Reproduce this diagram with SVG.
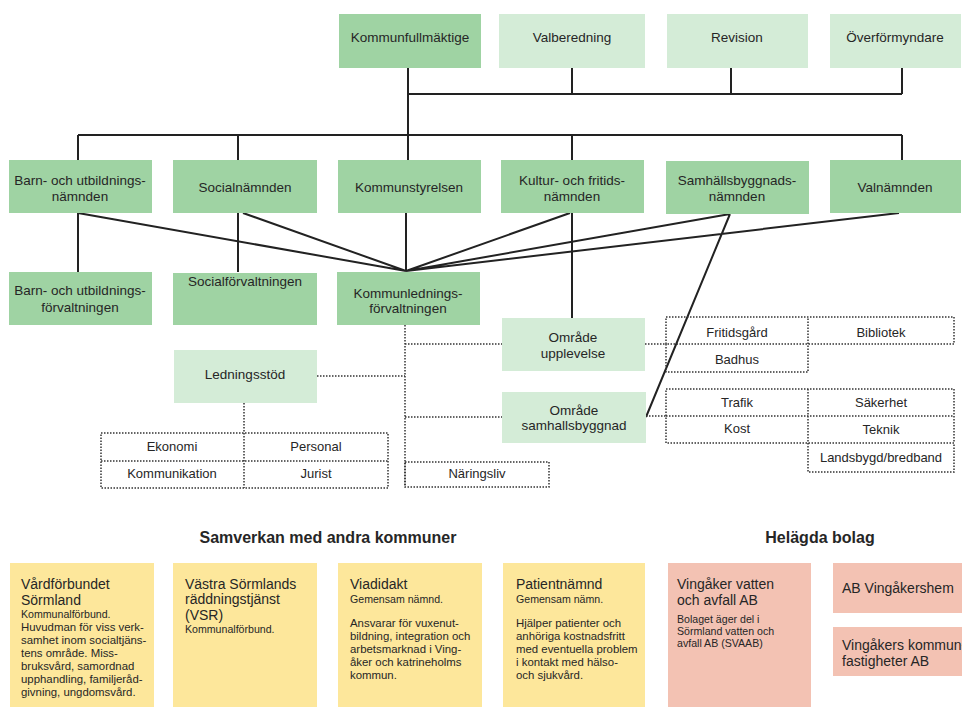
<svg xmlns="http://www.w3.org/2000/svg" width="962" height="710" viewBox="0 0 962 710">
<style>
text{font-family:"Liberation Sans",Arial,sans-serif;fill:#262626}
.n{font-size:13.5px;text-anchor:middle}
.c{font-size:13px;text-anchor:middle}
.dk{fill:#9fd3a3}
.lt{fill:#d4ecd7}
.ye{fill:#fde79b}
.pk{fill:#f3c2b3}
.sol{stroke:#222;stroke-width:2;fill:none}
.dot{stroke:#333;stroke-width:1.5;stroke-dasharray:1.5 1.5;fill:none}
.h{font-size:16px;font-weight:bold;text-anchor:middle}
.t{font-size:14px}
.s{font-size:11.4px}
.sk{font-size:10.6px}
</style>
<rect width="962" height="710" fill="#fff"/>
<g id="connectors">
<path class="sol" d="M408 68V160M408 94H902M572 68V94M731 68V94M902 68V94M78 135H902M78 135V160M238 135V160M572 135V160M902 135V160"/>
<path class="sol" d="M78 213V272M238 213V272M406 213V271M572 213V318"/>
<path class="sol" d="M78 213L406 271M243 213L406 271M570 213L406 271M730 214L406 271M899 213L406 271M730 214L646 417"/>
<path class="dot" d="M405 325V487M405 344H502M405 417H502M317 376H405M244 403V433M645 344H666M646 416H666"/>
</g>
<g id="kommunfullmaktige"><rect class="dk" x="339" y="14" width="142" height="54"/><text class="n" x="410" y="42">Kommunfullmäktige</text></g>
<g id="valberedning"><rect class="lt" x="499" y="14" width="146" height="54"/><text class="n" x="572" y="42">Valberedning</text></g>
<g id="revision"><rect class="lt" x="667" y="14" width="141" height="54"/><text class="n" x="737" y="42">Revision</text></g>
<g id="overformyndare"><rect class="lt" x="830" y="14" width="131" height="54"/><text class="n" x="895" y="42">Överförmyndare</text></g>

<g id="bun"><rect class="dk" x="9" y="160" width="143" height="53"/><text class="n" x="80" y="185">Barn- och utbildnings-</text><text class="n" x="80" y="201">nämnden</text></g>
<g id="socialnamnden"><rect class="dk" x="173" y="160" width="144" height="53"/><text class="n" x="245" y="192">Socialnämnden</text></g>
<g id="kommunstyrelsen"><rect class="dk" x="338" y="160" width="143" height="53"/><text class="n" x="409" y="192">Kommunstyrelsen</text></g>
<g id="kfn"><rect class="dk" x="501" y="160" width="143" height="53"/><text class="n" x="572" y="185">Kultur- och fritids-</text><text class="n" x="572" y="201">nämnden</text></g>
<g id="sbn"><rect class="dk" x="666" y="161" width="143" height="53"/><text class="n" x="737" y="185">Samhällsbyggnads-</text><text class="n" x="737" y="201">nämnden</text></g>
<g id="valnamnden"><rect class="dk" x="830" y="160" width="131" height="53"/><text class="n" x="895" y="192">Valnämnden</text></g>

<g id="buf"><rect class="dk" x="9" y="272" width="143" height="53"/><text class="n" x="80" y="295">Barn- och utbildnings-</text><text class="n" x="80" y="312">förvaltningen</text></g>
<g id="socialforvaltningen"><rect class="dk" x="173" y="273" width="144" height="52"/><text class="n" x="245" y="286">Socialförvaltningen</text></g>
<g id="klf"><rect class="dk" x="337" y="272" width="143" height="53"/><text class="n" x="408" y="298">Kommunlednings-</text><text class="n" x="408" y="313">förvaltningen</text></g>

<g id="omrade-upplevelse"><rect class="lt" x="502" y="318" width="143" height="53"/><text class="n" x="573" y="342">Område</text><text class="n" x="573" y="358">upplevelse</text></g>
<g id="omrade-samhallsbyggnad"><rect class="lt" x="502" y="392" width="144" height="51"/><text class="n" x="574" y="415">Område</text><text class="n" x="574" y="430">samhallsbyggnad</text></g>
<g id="ledningsstod"><rect class="lt" x="174" y="350" width="143" height="53"/><text class="n" x="245" y="379">Ledningsstöd</text></g>

<g id="ledningsstod-enheter">
<rect class="dot" x="101" y="433" width="287" height="55"/>
<path class="dot" d="M101 461H388M244 433V488"/>
<text class="c" x="172" y="451">Ekonomi</text><text class="c" x="316" y="451">Personal</text>
<text class="c" x="172" y="478">Kommunikation</text><text class="c" x="316" y="478">Jurist</text>
</g>
<g id="naringsliv"><rect class="dot" x="405" y="462" width="144" height="25"/><text class="c" x="477" y="478">Näringsliv</text></g>

<g id="upplevelse-enheter">
<path class="dot" d="M666 317H954V344H666ZM666 344V372H808V317"/>
<text class="c" x="737" y="337">Fritidsgård</text><text class="c" x="881" y="337">Bibliotek</text>
<text class="c" x="737" y="364">Badhus</text>
</g>
<g id="samhallsbyggnad-enheter">
<path class="dot" d="M666 389H954V443H666ZM666 416H954M808 389V472H954V443"/>
<text class="c" x="737" y="407">Trafik</text><text class="c" x="881" y="407">Säkerhet</text>
<text class="c" x="737" y="433">Kost</text><text class="c" x="881" y="434">Teknik</text>
<text class="c" x="881" y="462">Landsbygd/bredband</text>
</g>

<text class="h" x="328" y="543">Samverkan med andra kommuner</text>
<text class="h" x="820" y="543">Helägda bolag</text>

<g id="vardforbundet"><rect class="ye" x="10" y="563" width="144" height="144"/>
<text class="t" x="21" y="589">Vårdförbundet</text><text class="t" x="21" y="605">Sörmland</text>
<text class="sk" x="21" y="618">Kommunalförbund.</text>
<text class="s" x="21" y="631">Huvudman för viss verk-</text>
<text class="s" x="21" y="644">samhet inom socialtjäns-</text>
<text class="s" x="21" y="657">tens område. Miss-</text>
<text class="s" x="21" y="670">bruksvård, samordnad</text>
<text class="s" x="21" y="683">upphandling, familjeråd-</text>
<text class="s" x="21" y="696">givning, ungdomsvård.</text>
</g>
<g id="vsr"><rect class="ye" x="173" y="563" width="144" height="144"/>
<text class="t" x="185" y="589">Västra Sörmlands</text><text class="t" x="185" y="604">räddningstjänst</text><text class="t" x="185" y="620">(VSR)</text>
<text class="sk" x="185" y="633">Kommunalförbund.</text>
</g>
<g id="viadidakt"><rect class="ye" x="338" y="563" width="144" height="144"/>
<text class="t" x="350" y="589">Viadidakt</text>
<text class="sk" x="350" y="603">Gemensam nämnd.</text>
<text class="s" x="350" y="627">Ansvarar för vuxenut-</text>
<text class="s" x="350" y="640">bildning, integration och</text>
<text class="s" x="350" y="653">arbetsmarknad i Ving-</text>
<text class="s" x="350" y="666">åker och katrineholms</text>
<text class="s" x="350" y="679">kommun.</text>
</g>
<g id="patientnamnd"><rect class="ye" x="503" y="563" width="142" height="144"/>
<text class="t" x="516" y="589">Patientnämnd</text>
<text class="sk" x="516" y="603">Gemensam nämn.</text>
<text class="s" x="516" y="627">Hjälper patienter och</text>
<text class="s" x="516" y="640">anhöriga kostnadsfritt</text>
<text class="s" x="516" y="653">med eventuella problem</text>
<text class="s" x="516" y="666">i kontakt med hälso-</text>
<text class="s" x="516" y="679">och sjukvård.</text>
</g>
<g id="vav"><rect class="pk" x="668" y="563" width="143" height="144"/>
<text class="t" x="677" y="589">Vingåker vatten</text><text class="t" x="677" y="605">och avfall AB</text>
<text class="sk" x="677" y="623">Bolaget äger del i</text>
<text class="sk" x="677" y="635">Sörmland vatten och</text>
<text class="sk" x="677" y="647">avfall AB (SVAAB)</text>
</g>
<g id="vingakershem"><rect class="pk" x="833" y="563" width="129" height="50"/><text class="t" x="842" y="593">AB Vingåkershem</text></g>
<g id="kommunfastigheter"><rect class="pk" x="833" y="627" width="129" height="49"/><text class="t" x="842" y="650">Vingåkers kommun-</text><text class="t" x="842" y="666">fastigheter AB</text></g>
</svg>
